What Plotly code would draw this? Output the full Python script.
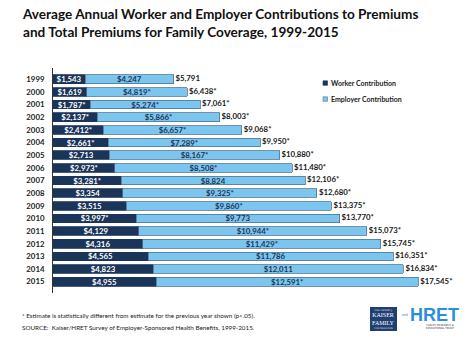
import plotly.graph_objects as go

years = ["1999", "2000", "2001", "2002", "2003", "2004", "2005", "2006", "2007",
         "2008", "2009", "2010", "2011", "2012", "2013", "2014", "2015"]
worker = [1543, 1619, 1787, 2137, 2412, 2661, 2713, 2973, 3281,
          3354, 3515, 3997, 4129, 4316, 4565, 4823, 4955]
worker_labels = ["$1,543", "$1,619", "$1,787*", "$2,137*", "$2,412*", "$2,661*", "$2,713",
                 "$2,973*", "$3,281*", "$3,354", "$3,515", "$3,997*", "$4,129", "$4,316",
                 "$4,565", "$4,823", "$4,955"]
employer = [4247, 4819, 5274, 5866, 6657, 7289, 8167, 8508, 8824,
            9325, 9860, 9773, 10944, 11429, 11786, 12011, 12591]
employer_labels = ["$4,247", "$4,819*", "$5,274*", "$5,866*", "$6,657*", "$7,289*", "$8,167*",
                   "$8,508*", "$8,824", "$9,325*", "$9,860*", "$9,773", "$10,944*", "$11,429*",
                   "$11,786", "$12,011", "$12,591*"]
total = [5791, 6438, 7061, 8003, 9068, 9950, 10880, 11480, 12106,
         12680, 13375, 13770, 15073, 15745, 16351, 16834, 17545]
total_labels = ["$5,791", "$6,438*", "$7,061*", "$8,003*", "$9,068*", "$9,950*", "$10,880*",
                "$11,480*", "$12,106*", "$12,680*", "$13,375*", "$13,770*", "$15,073*",
                "$15,745*", "$16,351*", "$16,834*", "$17,545*"]

NAVY = "#1b355a"
LIGHT = "#7cc5ee"
FONT = "Lato"

W, H = 474, 352
L, R, T, B = 53, 5, 68, 59
PW, PH = W - L - R, H - T - B


def px(x):
    return (x - L) / PW


def py(y):
    return (H - B - y) / PH


fig = go.Figure()
fig.add_trace(go.Bar(
    y=years, x=worker, orientation="h", name="Worker Contribution",
    marker=dict(color=NAVY, line=dict(color=NAVY, width=0.8)),
    text=worker_labels, texttemplate="<b>%{text}</b>", textposition="inside",
    insidetextanchor="middle", textangle=0, constraintext="none",
    textfont=dict(family=FONT, size=7.8, color="white", weight="bold"),
    hoverinfo="skip", showlegend=False,
))
fig.add_trace(go.Bar(
    y=years, x=employer, orientation="h", name="Employer Contribution",
    marker=dict(color=LIGHT, line=dict(color="#4f7595", width=0.8)),
    text=employer_labels, texttemplate="<b>%{text}</b>", textposition="inside",
    insidetextanchor="middle", textangle=0, constraintext="none",
    textfont=dict(family=FONT, size=7.8, color=NAVY, weight="bold"),
    hoverinfo="skip", showlegend=False,
))
fig.add_trace(go.Scatter(
    y=years, x=total, mode="text", text=total_labels,
    texttemplate="\u00a0<b>%{text}</b>",
    textposition="middle right",
    textfont=dict(family=FONT, size=7.8, color="#1a1a1a", weight="bold"),
    hoverinfo="skip", showlegend=False, cliponaxis=False,
))

annotations = [
    dict(text="<b>Average Annual Worker and Employer Contributions to Premiums<br>"
              "and Total Premiums for Family Coverage, 1999-2015</b>",
         x=px(20), y=py(4), xanchor="left", yanchor="top", align="left",
         font=dict(family=FONT, size=13.6, color="#111111")),
    dict(text="<b>Worker Contribution</b>", x=px(329), y=py(83), xanchor="left", yanchor="middle",
         font=dict(family=FONT, size=7, color="#222222")),
    dict(text="<b>Employer Contribution</b>", x=px(329), y=py(99), xanchor="left", yanchor="middle",
         font=dict(family=FONT, size=7, color="#222222")),
    dict(text="* Estimate is statistically different from estimate for the previous year shown (p<.05).",
         x=px(20), y=py(315), xanchor="left", yanchor="middle",
         font=dict(family=FONT, size=6.3, color="#222222")),
    dict(text="SOURCE:  Kaiser/HRET Survey of Employer-Sponsored Health Benefits, 1999-2015.",
         x=px(20), y=py(327), xanchor="left", yanchor="middle",
         font=dict(family=FONT, size=6.3, color="#222222")),
    dict(text="THE HENRY J.", x=px(383.5), y=py(310.5), xanchor="center", yanchor="middle",
         font=dict(family="DejaVu Serif", size=2.5, color="white")),
    dict(text="KAISER<br>FAMILY", x=px(383.5), y=py(319), xanchor="center", yanchor="middle",
         font=dict(family="Liberation Serif", size=6, color="white")),
    dict(text="FOUNDATION", x=px(383.5), y=py(328), xanchor="center", yanchor="middle",
         font=dict(family="DejaVu Serif", size=2.5, color="white")),
    dict(text="and", x=px(405), y=py(315), xanchor="center", yanchor="middle",
         font=dict(family=FONT, size=3.5, color="#777777")),
    dict(text="<b>HRET</b>", x=px(434), y=py(314.5), xanchor="center", yanchor="middle",
         font=dict(family="Liberation Sans", size=18, color="#2a8fd8")),
    dict(text="HEALTH RESEARCH &<br>EDUCATIONAL TRUST", x=px(440), y=py(327), xanchor="center",
         yanchor="middle", align="right",
         font=dict(family="DejaVu Sans", size=2.6, color="#333333")),
]
for a in annotations:
    a.update(xref="paper", yref="paper", showarrow=False)

shapes = [
    dict(type="rect", xref="paper", yref="paper", x0=px(323), x1=px(327.5), y0=py(80.8), y1=py(85.3),
         fillcolor=NAVY, line=dict(color=NAVY, width=0.6)),
    dict(type="rect", xref="paper", yref="paper", x0=px(323), x1=px(327.5), y0=py(96.8), y1=py(101.3),
         fillcolor=LIGHT, line=dict(color="#4f7595", width=0.6)),
    dict(type="rect", xref="paper", yref="paper", x0=px(370), x1=px(397), y0=py(307), y1=py(331),
         fillcolor="#1f3f73", line=dict(width=0)),
]

fig.update_layout(
    width=W, height=H, margin=dict(l=L, r=R, t=T, b=B),
    paper_bgcolor="white", plot_bgcolor="white",
    barmode="stack", bargap=0.32,
    annotations=annotations, shapes=shapes,
    xaxis=dict(range=[0, PW / 0.02082], visible=False, fixedrange=True),
    yaxis=dict(autorange="reversed", showline=True, linecolor="#333333", linewidth=1,
               ticks="", showgrid=False, ticklabelstandoff=6,
               tickfont=dict(family=FONT, size=7.8, color="#222222", weight="bold")),
    font=dict(family=FONT),
)

fig.write_html("out.html")
